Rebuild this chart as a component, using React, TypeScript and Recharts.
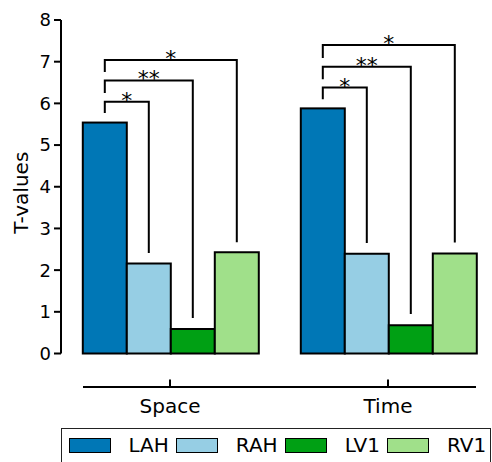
import React from 'react';
import { BarChart, Bar, XAxis, YAxis } from 'recharts';

const categories = ['Space', 'Time'];
const seriesNames = ['LAH', 'RAH', 'LV1', 'RV1'];
const seriesColors = ['#0077B6', '#96CEE4', '#00A014', '#A0E08A'];
const LAH = [5.54, 5.88];
const RAH = [2.16, 2.39];
const LV1 = [0.59, 0.68];
const RV1 = [2.43, 2.4];
const yTicks = [0, 1, 2, 3, 4, 5, 6, 7, 8];

// significance brackets: from LAH to target series index
const bracketTargets = [1, 2, 3];
const bracketLabels = ['*', '**', '*'];
const spaceBracketStart = [5.77, 6.25, 6.75];
const spaceBracketTop = [6.04, 6.55, 7.04];
const spaceBracketEnd = [2.41, 0.85, 2.67];
const timeBracketStart = [6.1, 6.58, 7.09];
const timeBracketTop = [6.38, 6.88, 7.4];
const timeBracketEnd = [2.65, 0.95, 2.66];

const seriesValues = [LAH, RAH, LV1, RV1];
const data = categories.map((name, i) => {
  const row: Record<string, string | number> = { name };
  seriesNames.forEach((s, k) => {
    row[s] = seriesValues[k][i];
  });
  return row;
});

const bracketSets = [
  [spaceBracketStart, spaceBracketTop, spaceBracketEnd],
  [timeBracketStart, timeBracketTop, timeBracketEnd],
];

const FONT = 'DejaVu Sans, sans-serif';

// LAH bar: draws the bar and, using the bar's own scale, the brackets that start at it
const BracketBar = (p: any) => {
  const { x, y, width, height, fill, payload } = p;
  const idx = typeof p.index === 'number' ? p.index : categories.indexOf(payload?.name);
  const value = Number(payload?.[seriesNames[0]] ?? LAH[idx]);
  const unit = value ? height / value : 0;
  const base = y + height;
  const py = (v: number) => base - v * unit;
  const cx0 = x + width / 2;
  const set = bracketSets[idx];
  return (
    <g>
      <rect x={x} y={y} width={width} height={height} fill={fill} stroke="#000" strokeWidth={2} />
      {set &&
        bracketTargets.map((tgt, j) => {
          const cx1 = cx0 + tgt * width;
          const [s, t, e] = set;
          return (
            <g key={j}>
              <path
                d={`M${cx0},${py(s[j])}V${py(t[j])}H${cx1}V${py(e[j])}`}
                fill="none"
                stroke="#000"
                strokeWidth={2}
              />
              <text
                x={(cx0 + cx1) / 2}
                y={py(t[j]) + 6}
                textAnchor="middle"
                fontSize={22}
                fontFamily={FONT}
                fill="#000"
              >
                {bracketLabels[j]}
              </text>
            </g>
          );
        })}
    </g>
  );
};

const YLabel = (props: any) => {
  const vb = props.viewBox || { x: 0, y: 20, width: 61, height: 333.5 };
  const cy = vb.y + vb.height / 2 + 6;
  const cx = vb.x + 28;
  return (
    <text transform={`translate(${cx},${cy}) rotate(-90)`} textAnchor="middle" fontSize={20} fontFamily={FONT} fill="#000">
      T-values
    </text>
  );
};

export default function App() {
  return (
    <div
      style={{
        position: 'absolute',
        left: 0,
        top: 0,
        width: 492,
        height: 462,
        overflow: 'hidden',
        background: '#fff',
        fontFamily: FONT,
      }}
    >
      <BarChart
        width={497}
        height={462}
        data={data}
        margin={{ top: 20, right: 0, bottom: 48.5, left: 0 }}
        barCategoryGap="10%"
        barGap={0}
      >
        <XAxis
          dataKey="name"
          height={60}
          interval={0}
          tickSize={7.5}
          tickMargin={37.5}
          axisLine={{ stroke: '#000', strokeWidth: 2, transform: 'translate(0,33.5)', strokeDasharray: '0 22 393 60' }}
          tickLine={{ stroke: '#000', strokeWidth: 2, transform: 'translate(0,26)' }}
          tick={{ fill: '#000', fontSize: 20, fontFamily: FONT }}
        />
        <YAxis
          width={61}
          domain={[0, 8]}
          ticks={yTicks}
          interval={0}
          tickSize={7}
          tickMargin={3}
          axisLine={{ stroke: '#000', strokeWidth: 2 }}
          tickLine={{ stroke: '#000', strokeWidth: 2 }}
          tick={{ fill: '#000', fontSize: 18, fontFamily: FONT }}
          label={{ value: 'T-values', content: YLabel }}
        />
        {seriesNames.map((s, k) => (
          <Bar
            key={s}
            dataKey={s}
            fill={seriesColors[k]}
            stroke="#000"
            strokeWidth={2}
            isAnimationActive={false}
            shape={k === 0 ? BracketBar : undefined}
          />
        ))}
      </BarChart>
      <div
        style={{
          position: 'absolute',
          left: 61,
          top: 428,
          width: 430,
          height: 60,
          boxSizing: 'border-box',
          border: '1.5px solid #222',
          background: '#fff',
          display: 'flex',
          alignItems: 'flex-start',
          paddingLeft: 6.5,
          paddingTop: 8.5,
        }}
      >
        {seriesNames.map((s, k) => (
          <div key={s} style={{ display: 'flex', alignItems: 'center', marginRight: 7 }}>
            <div
              style={{
                width: 42,
                height: 15,
                boxSizing: 'border-box',
                border: '1.5px solid #000',
                background: seriesColors[k],
                marginRight: 18,
              }}
            />
            <span style={{ fontSize: 20, lineHeight: '15px', color: '#000' }}>{s}</span>
          </div>
        ))}
      </div>
    </div>
  );
}
